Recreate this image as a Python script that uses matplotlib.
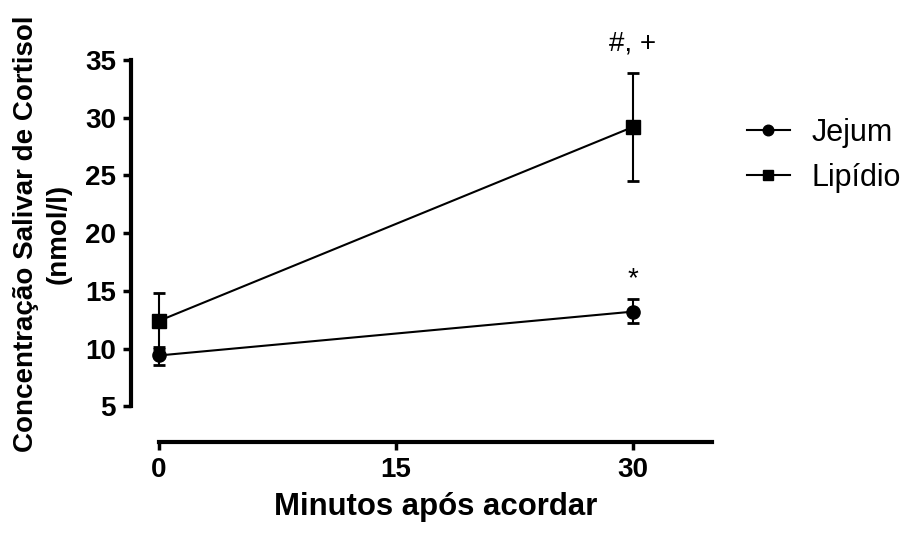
import matplotlib.pyplot as plt

plt.rcParams['font.family'] = ['Liberation Sans', 'DejaVu Sans']

minutos = [0, 30]
jejum = [9.4, 13.2]
jejum_erro_sup = [0.7, 1.1]
jejum_erro_inf = [0.8, 1.0]
lipidio = [12.4, 29.2]
lipidio_erro_sup = [2.4, 4.7]
lipidio_erro_inf = [2.4, 4.7]

fig = plt.figure(figsize=(9.09, 5.35), dpi=100)
ax = fig.add_axes([0.1749, 0.1738, 0.6084, 0.714])

ax.errorbar(minutos, jejum, yerr=[jejum_erro_inf, jejum_erro_sup], color='k',
            marker='o', markersize=9.5, linewidth=1.5, elinewidth=1.5, capsize=4.5,
            capthick=2, label='Jejum', clip_on=False)
ax.errorbar(minutos, lipidio, yerr=[lipidio_erro_inf, lipidio_erro_sup], color='k',
            marker='s', markersize=9.5, linewidth=1.5, elinewidth=1.5, capsize=4.5,
            capthick=2, label='Lipídio', clip_on=False)

# marcas de significancia
ax.text(30, lipidio[1] + lipidio_erro_sup[1] + 1.4, '#, +', ha='center', va='bottom', fontsize=20)
ax.text(30, jejum[1] + jejum_erro_sup[1] + 0.6, '*', ha='center', va='bottom', fontsize=20)

ax.set_xlim(0, 35)
ax.set_ylim(1.9, 35)
ax.set_xticks([0, 15, 30])
ax.set_yticks([5, 10, 15, 20, 25, 30, 35])

ax.spines['top'].set_visible(False)
ax.spines['right'].set_visible(False)
ax.spines['left'].set_position(('outward', 20))
ax.spines['left'].set_bounds(5, 35)
ax.spines['left'].set_linewidth(3)
ax.spines['bottom'].set_linewidth(3)
ax.tick_params(axis='both', direction='out', length=6, width=2.5, labelsize=20, pad=5)
for lab in ax.get_xticklabels() + ax.get_yticklabels():
    lab.set_fontweight('bold')

ax.set_xlabel('Minutos após acordar', fontsize=22.4, fontweight='bold', labelpad=6)
fig.text(0.0468, 0.5626, 'Concentração Salivar de Cortisol\n(nmol/l)', rotation=90,
         ha='center', va='center', fontsize=20, fontweight='bold', linespacing=1.35)

handles, labels = ax.get_legend_handles_labels()
handles = [h[0] for h in handles]
fig.legend(handles, labels, loc='center left', bbox_to_anchor=(747 / 909, 1 - 155.5 / 535),
           frameon=False, fontsize=22, handlelength=1.4, handletextpad=0.7,
           markerscale=0.8, labelspacing=0.5, borderpad=0, borderaxespad=0)

fig.savefig('out.png', dpi=100)
